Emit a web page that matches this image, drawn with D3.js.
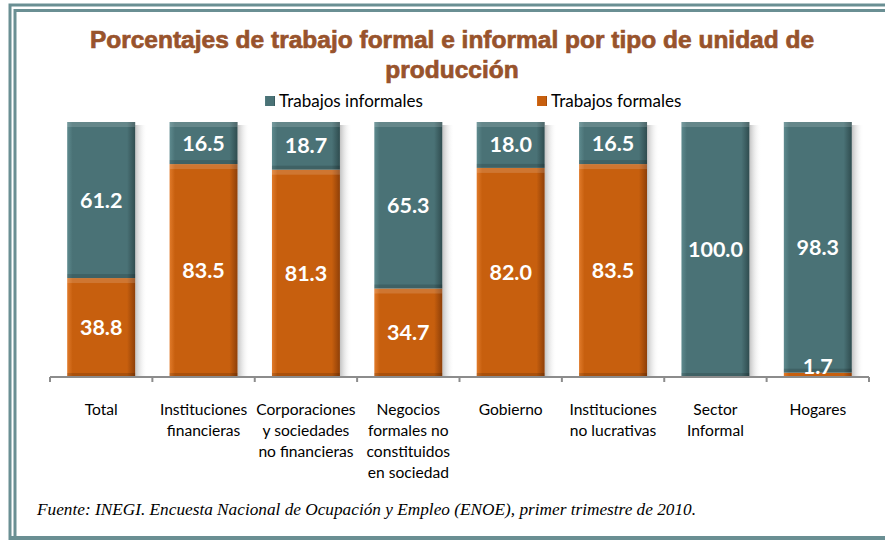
<!DOCTYPE html>
<html>
<head>
<meta charset="utf-8">
<script src="https://cdn.jsdelivr.net/npm/d3@7"></script>
<style>
  body { margin: 0; background: #fff; }
  svg { display: block; }
</style>
</head>
<body>
<div id="myChart"></div>
<script>
// data
var categories = [
  ["Total"],
  ["Instituciones", "financieras"],
  ["Corporaciones", "y sociedades", "no financieras"],
  ["Negocios", "formales no", "constituidos", "en sociedad"],
  ["Gobierno"],
  ["Instituciones", "no lucrativas"],
  ["Sector", "Informal"],
  ["Hogares"]
];
var informales = [61.2, 16.5, 18.7, 65.3, 18.0, 16.5, 100.0, 98.3];
var formales = [38.8, 83.5, 81.3, 34.7, 82.0, 83.5, 0.0, 1.7];
var seriesNames = ["Trabajos informales", "Trabajos formales"];

var W = 885, H = 540;
var teal = "#4a7276", orange = "#c75f0e";

var svg = d3.select("#myChart")
    .append("svg")
    .attr("width", W).attr("height", H);

var defs = svg.append("defs");

// bevel-ish gradients
function bevel(id, light, mid, dark) {
  var g = defs.append("linearGradient").attr("id", id)
      .attr("x1", 0).attr("x2", 1).attr("y1", 0).attr("y2", 0);
  g.append("stop").attr("offset", "0%").attr("stop-color", light);
  g.append("stop").attr("offset", "8%").attr("stop-color", mid);
  g.append("stop").attr("offset", "88%").attr("stop-color", mid);
  g.append("stop").attr("offset", "100%").attr("stop-color", dark);
}
bevel("gTeal", "#5e8a8e", teal, "#2f4c4f");
bevel("gOrange", "#e07a2a", orange, "#8e3f08");

var sh = defs.append("linearGradient").attr("id", "shadow")
    .attr("x1", 0).attr("x2", 1).attr("y1", 0).attr("y2", 0);
sh.append("stop").attr("offset", "0%").attr("stop-color", "#999").attr("stop-opacity", 0.6);
sh.append("stop").attr("offset", "100%").attr("stop-color", "#fff").attr("stop-opacity", 0);

// frame
svg.append("path")
    .attr("d", "M10,540 V5 H885")
    .attr("fill", "none").attr("stroke", "#6a8f93").attr("stroke-width", 3);
svg.append("path")
    .attr("d", "M15,536 V10.5 H885")
    .attr("fill", "none").attr("stroke", "#6a8f93").attr("stroke-width", 3);
svg.append("line")
    .attr("x1", 10).attr("x2", 885).attr("y1", 538).attr("y2", 538)
    .attr("stroke", "#6a8f93").attr("stroke-width", 4);

// title
var title = svg.append("text")
    .attr("text-anchor", "middle")
    .attr("font-family", "Liberation Sans, Arial, sans-serif")
    .attr("font-weight", "bold")
    .attr("font-size", 24.5)
    .attr("fill", "#98532c")
    .attr("stroke", "#98532c")
    .attr("stroke-width", 0.7);
title.append("tspan").attr("x", 452).attr("y", 48)
    .text("Porcentajes de trabajo formal e informal por tipo de unidad de");
title.append("tspan").attr("x", 452).attr("y", 78)
    .text("producción");

// legend
var legend = svg.append("g");
var legX = [265, 537];
var legFill = ["url(#gTeal)", "url(#gOrange)"];
seriesNames.forEach(function(name, i) {
  legend.append("rect")
      .attr("x", legX[i]).attr("y", 96)
      .attr("width", 10).attr("height", 10)
      .attr("fill", legFill[i]);
  legend.append("text")
      .attr("x", legX[i] + 14).attr("y", 107)
      .attr("font-family", "Lato, sans-serif")
      .attr("font-size", 17)
      .attr("fill", "#000")
      .text(name);
});

// scales
var x = d3.scaleBand()
    .domain(d3.range(categories.length))
    .range([50, 869])
    .paddingInner(0.336)
    .paddingOuter(0.168);

var y = d3.scaleLinear()
    .domain([0, 100])
    .range([377, 122]);

var bw = x.bandwidth();

// shadows
svg.append("g").selectAll("rect")
    .data(d3.range(categories.length))
    .enter().append("rect")
    .attr("x", function(i) { return x(i) + bw; })
    .attr("y", y(100) + 3)
    .attr("width", 12)
    .attr("height", y(0) - y(100) - 3)
    .attr("fill", "url(#shadow)");

// bars
function segs(vals, base) {
  return vals.map(function(v, i) { return { i: i, v: v, b: base[i] }; });
}
function drawSeries(data, fill) {
  var g = svg.append("g");
  g.selectAll("rect.bar")
      .data(data)
      .enter().append("rect")
      .attr("class", "bar")
      .attr("x", function(d) { return x(d.i); })
      .attr("y", function(d) { return y(d.b + d.v); })
      .attr("width", bw)
      .attr("height", function(d) { return y(d.b) - y(d.b + d.v); })
      .attr("fill", fill);
  var big = data.filter(function(d) { return d.v > 3; });
  // top highlight / bottom darker strip for bevel look
  g.selectAll("rect.hl")
      .data(big)
      .enter().append("rect")
      .attr("class", "hl")
      .attr("x", function(d) { return x(d.i); })
      .attr("y", function(d) { return y(d.b + d.v); })
      .attr("width", bw)
      .attr("height", 5)
      .attr("fill", "#fff").attr("fill-opacity", 0.15);
  g.selectAll("rect.dk")
      .data(big)
      .enter().append("rect")
      .attr("class", "dk")
      .attr("x", function(d) { return x(d.i); })
      .attr("y", function(d) { return y(d.b) - 4; })
      .attr("width", bw)
      .attr("height", 4)
      .attr("fill", "#000").attr("fill-opacity", 0.15);
}
var zeros = formales.map(function() { return 0; });
var formSegs = segs(formales, zeros);
var infSegs = segs(informales, formales);
drawSeries(formSegs, "url(#gOrange)");
drawSeries(infSegs, "url(#gTeal)");

// value labels
function drawLabels(data) {
  svg.append("g").selectAll("text")
      .data(data.filter(function(d) { return d.v > 0; }))
      .enter().append("text")
      .attr("x", function(d) { return x(d.i) + bw / 2; })
      .attr("y", function(d) { return Math.min(y(d.b + d.v / 2), 366); })
      .attr("dy", "0.35em")
      .attr("text-anchor", "middle")
      .attr("font-family", "Lato, sans-serif")
      .attr("font-weight", "bold")
      .attr("font-size", 21.5)
      .attr("fill", "#fff")
      .text(function(d) { return d.v.toFixed(1); });
}
drawLabels(formSegs);
drawLabels(infSegs);

// axis
var axis = svg.append("g").attr("transform", "translate(0,377)");
axis.append("line")
    .attr("x1", 50).attr("x2", 869)
    .attr("stroke", "#8c8c8c").attr("stroke-width", 2);
axis.selectAll("line.tick")
    .data(d3.range(categories.length + 1))
    .enter().append("line")
    .attr("class", "tick")
    .attr("x1", function(i) { return 50 + i * x.step(); })
    .attr("x2", function(i) { return 50 + i * x.step(); })
    .attr("y1", 0).attr("y2", 5)
    .attr("stroke", "#8c8c8c").attr("stroke-width", 2);

// category labels
var cats = svg.append("g");
categories.forEach(function(lines, i) {
  var t = cats.append("text")
      .attr("text-anchor", "middle")
      .attr("font-family", "Lato, sans-serif")
      .attr("font-size", 15.6)
      .attr("fill", "#000");
  lines.forEach(function(l, j) {
    t.append("tspan")
        .attr("x", x(i) + bw / 2)
        .attr("y", 415 + j * 21)
        .text(l);
  });
});

// source
svg.append("text")
    .attr("x", 37).attr("y", 515)
    .attr("font-family", "Liberation Serif, Times New Roman, serif")
    .attr("font-style", "italic")
    .attr("font-size", 17.25)
    .attr("fill", "#000")
    .text("Fuente: INEGI. Encuesta Nacional de Ocupación y Empleo (ENOE), primer trimestre de 2010.");
</script>
</body>
</html>
